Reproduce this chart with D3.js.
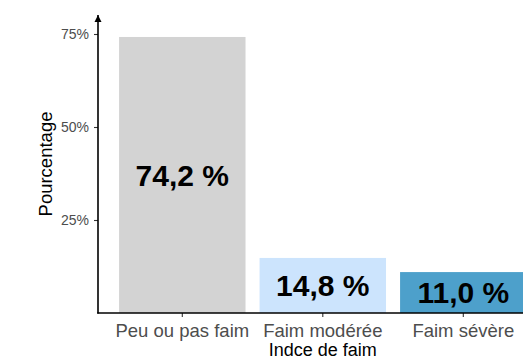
<!DOCTYPE html>
<html>
<head>
<meta charset="utf-8">
<script src="https://cdn.jsdelivr.net/npm/d3@7"></script>
<style>
  html, body { margin: 0; padding: 0; background: #fff; }
  svg { display: block; }
</style>
</head>
<body>
<svg id="chart" width="523" height="359"></svg>
<script>
// Hunger index categories and their shares (%)
const categories = ["Peu ou pas faim", "Faim modérée", "Faim sévère"];
const values = [74.2, 14.8, 11.0];
const barColors = ["#d3d3d3", "#cce4fd", "#4da0cb"];
const yTicks = [25, 50, 75];

(function () {
  const svg = d3.select("#chart");
  const font = "'Liberation Sans', Arial, sans-serif";

  // Plot panel: x runs past the right edge of the window
  const panelLeft = 98, panelBottom = 313, panelTop = 15;
  const step = 140.5;
  const panelRight = panelLeft + step * (categories.length + 0.2);

  const x = d3.scaleBand()
    .domain(categories)
    .range([panelLeft + 0.1 * step, panelRight - 0.1 * step])
    .paddingInner(0.1)
    .paddingOuter(0.05);

  const y = d3.scaleLinear().domain([0, 25]).range([panelBottom, panelBottom - 93]);

  // Bars
  svg.append("g")
    .selectAll("rect")
    .data(values)
    .join("rect")
    .attr("x", (d, i) => x(categories[i]))
    .attr("width", x.bandwidth())
    .attr("y", d => y(d))
    .attr("height", d => y(0) - y(d))
    .attr("fill", (d, i) => barColors[i]);

  // Value labels in the middle of each bar
  svg.append("g")
    .selectAll("text")
    .data(values)
    .join("text")
    .attr("x", (d, i) => x(categories[i]) + x.bandwidth() / 2)
    .attr("y", d => (y(d) + y(0)) / 2)
    .attr("dy", "0.36em")
    .attr("text-anchor", "middle")
    .attr("font-family", font)
    .attr("font-weight", "bold")
    .attr("font-size", "30px")
    .attr("fill", "#000")
    .text(d => d.toFixed(1).replace(".", ",") + " %");

  // Y axis
  const yAxis = d3.axisLeft(y)
    .tickValues(yTicks)
    .tickFormat(d => d + "%")
    .tickSize(4)
    .tickPadding(5);
  const gy = svg.append("g").attr("transform", `translate(${panelLeft},0)`).call(yAxis);
  gy.select(".domain").remove();
  gy.selectAll(".tick line").attr("stroke", "#333").attr("stroke-width", 1.1);
  gy.selectAll(".tick text")
    .attr("font-family", font)
    .attr("font-size", "14px")
    .attr("fill", "#4d4d4d");

  // X axis
  const xAxis = d3.axisBottom(x).tickSize(4).tickPadding(6.4);
  const gx = svg.append("g").attr("transform", `translate(0,${panelBottom})`).call(xAxis);
  gx.select(".domain").remove();
  gx.selectAll(".tick line").attr("stroke", "#333").attr("stroke-width", 1.1);
  gx.selectAll(".tick text")
    .attr("font-family", font)
    .attr("font-size", "18.5px")
    .attr("fill", "#4d4d4d");

  // Axis lines, y with an arrow head
  svg.append("defs").append("marker")
    .attr("id", "arrow")
    .attr("viewBox", "0 0 10 10")
    .attr("refX", 10).attr("refY", 5)
    .attr("markerUnits", "userSpaceOnUse")
    .attr("markerWidth", 7).attr("markerHeight", 8)
    .attr("orient", "auto")
    .append("path")
    .attr("d", "M0,0 L10,5 L0,10 Z")
    .attr("fill", "#000");

  svg.append("line")
    .attr("x1", panelLeft).attr("x2", panelLeft)
    .attr("y1", panelBottom + 0.5).attr("y2", panelTop)
    .attr("stroke", "#000").attr("stroke-width", 1.6)
    .attr("marker-end", "url(#arrow)");

  svg.append("line")
    .attr("x1", panelLeft - 0.8).attr("x2", panelRight)
    .attr("y1", panelBottom).attr("y2", panelBottom)
    .attr("stroke", "#000").attr("stroke-width", 1.6);

  // Axis titles
  svg.append("text")
    .attr("x", (panelLeft + panelRight) / 2)
    .attr("y", 355.5)
    .attr("text-anchor", "middle")
    .attr("font-family", font)
    .attr("font-size", "18px")
    .attr("fill", "#000")
    .text("Indce de faim");

  svg.append("text")
    .attr("transform", `translate(51.5,${(panelTop + panelBottom) / 2}) rotate(-90)`)
    .attr("text-anchor", "middle")
    .attr("font-family", font)
    .attr("font-size", "18.5px")
    .attr("fill", "#000")
    .text("Pourcentage");
})();
</script>
</body>
</html>
